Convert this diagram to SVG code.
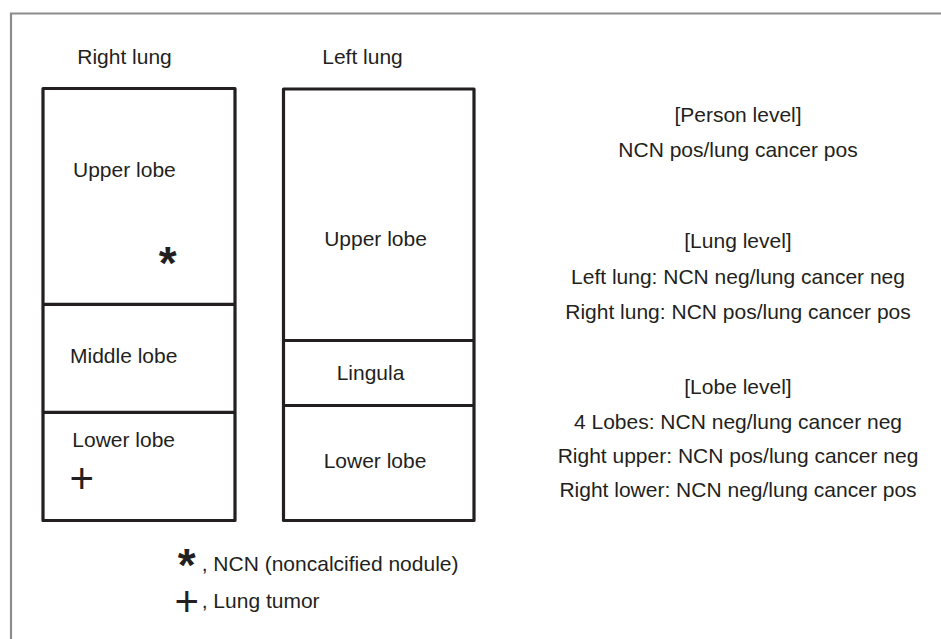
<svg xmlns="http://www.w3.org/2000/svg" width="941" height="639" viewBox="0 0 941 639">
<style>
text{font-family:"Liberation Sans",Arial,Helvetica,sans-serif;font-size:21px;fill:#231f20}
.c{text-anchor:middle}
.box{fill:#fff;stroke:#231f20;stroke-width:3.2;stroke-linejoin:round}
.div{stroke:#231f20;stroke-width:3.2}
text.ast{font-weight:bold;font-size:46px}
text.plus{font-weight:normal;font-size:42px}
</style>
<rect width="941" height="639" fill="#fff"/>
<path d="M11,639 V13.5 H941" fill="none" stroke="#8c8c8c" stroke-width="2.2"/>
<g id="right-lung">
  <text class="c" x="124.5" y="64">Right lung</text>
  <rect class="box" x="43" y="88.5" width="192" height="432"/>
  <text x="73" y="177">Upper lobe</text>
  <text class="ast c" x="167.7" y="279">*</text>
  <text x="70" y="363">Middle lobe</text>
  <text x="72.3" y="446.7">Lower lobe</text>
  <text class="plus c" x="81.7" y="493.3">+</text>
</g>
<g id="left-lung">
  <text class="c" x="362.5" y="64">Left lung</text>
  <rect class="box" x="283.5" y="89" width="190.5" height="431.5"/>
  <text class="c" x="375.5" y="246">Upper lobe</text>
  <text class="c" x="370.5" y="380">Lingula</text>
  <text class="c" x="375" y="467.7">Lower lobe</text>
</g>
<g id="connectors">
  <line class="div" x1="43" y1="304.3" x2="235" y2="304.3"/>
  <line class="div" x1="43" y1="412.3" x2="235" y2="412.3"/>
  <line class="div" x1="283.5" y1="340.5" x2="474" y2="340.5"/>
  <line class="div" x1="283.5" y1="405.5" x2="474" y2="405.5"/>
</g>
<g id="levels">
  <text class="c" x="738" y="121.5">[Person level]</text>
  <text class="c" x="738" y="156.5">NCN pos/lung cancer pos</text>
  <text class="c" x="738" y="248.3">[Lung level]</text>
  <text class="c" x="738" y="284">Left lung: NCN neg/lung cancer neg</text>
  <text class="c" x="738" y="319.3">Right lung: NCN pos/lung cancer pos</text>
  <text class="c" x="738" y="394">[Lobe level]</text>
  <text class="c" x="738" y="429">4 Lobes: NCN neg/lung cancer neg</text>
  <text class="c" x="738" y="463.3">Right upper: NCN pos/lung cancer neg</text>
  <text class="c" x="738" y="497">Right lower: NCN neg/lung cancer pos</text>
</g>
<g id="legend">
  <text class="ast c" x="186.7" y="580.5">*</text>
  <text x="201.7" y="571">, NCN (noncalcified nodule)</text>
  <text class="plus c" x="186.7" y="616">+</text>
  <text x="201.7" y="607.7">, Lung tumor</text>
</g>
</svg>
